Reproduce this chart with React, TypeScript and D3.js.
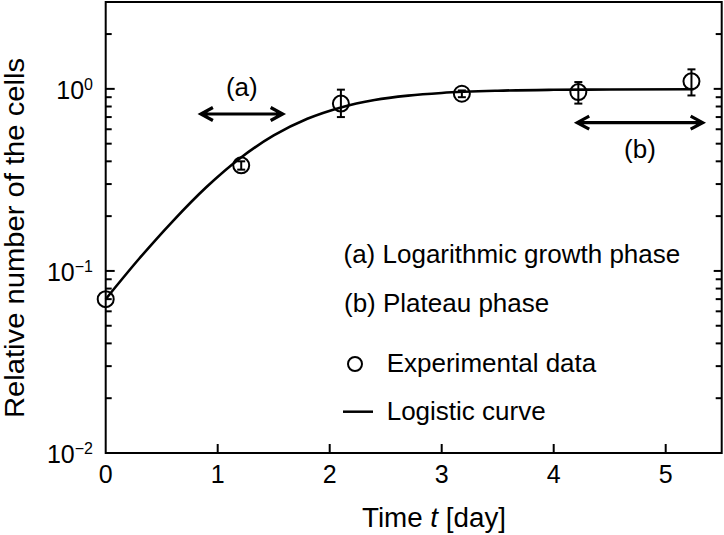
import React from "react";
import * as d3 from "d3";

// ---- data ----
const dataT = [0, 1.21, 2.1, 3.18, 4.22, 5.23];
const dataV = [0.070, 0.38, 0.83, 0.94, 0.96, 1.10];
const errLo = [0.070, 0.36, 0.70, 0.90, 0.83, 0.92];
const errHi = [0.070, 0.40, 0.99, 0.98, 1.09, 1.28];

const curveT = [0, 0.3, 0.6, 0.9, 1.2, 1.5, 1.8, 2.1, 2.4, 2.7, 3.0, 3.5, 4.0, 4.5, 5.25];
const curveV = [0.070, 0.117, 0.188, 0.289, 0.416, 0.555, 0.685, 0.791, 0.868, 0.918, 0.950, 0.977, 0.988, 0.992, 0.995];

const xTicks = [0, 1, 2, 3, 4, 5];
const yMajor = [0.01, 0.1, 1];
const yMajorExp = ["−2", "−1", "0"];
const yMinor = [0.02, 0.03, 0.04, 0.05, 0.06, 0.07, 0.08, 0.09, 0.2, 0.3, 0.4, 0.5, 0.6, 0.7, 0.8, 0.9, 2];

const legendLines = ["(a) Logarithmic growth phase", "(b) Plateau phase", "Experimental data", "Logistic curve"];
const phaseA = [0.85, 1.58];
const phaseB = [4.21, 5.33];

const W = 724, H = 535;
const L = 105.7, R = 721.7, T = 2, B = 453;
const FONT = "'Liberation Sans', Arial, sans-serif";

export default function App() {
  const x = d3.scaleLinear().domain([0, 5.5]).range([L, R]);
  const y = d3.scaleLog().domain([0.01, 3]).range([B, T]);

  const line = d3
    .line<number>()
    .x((_, i) => x(curveT[i]))
    .y((v) => y(v))
    .curve(d3.curveMonotoneX);

  const arrow = (x1: number, x2: number, yy: number) => {
    const h = 12, w = 6.5;
    return `M${x1 + h},${yy - w} L${x1},${yy} L${x1 + h},${yy + w} M${x1},${yy} L${x2},${yy} M${x2 - h},${yy - w} L${x2},${yy} L${x2 - h},${yy + w}`;
  };

  return (
    <svg
      width={W}
      height={H}
      viewBox={`0 0 ${W} ${H}`}
      style={{ position: "absolute", left: 0, top: 0, background: "#fff" }}
      fontFamily={FONT}
    >
      <rect x={0} y={0} width={W} height={H} fill="#fff" />
      {/* frame */}
      <rect x={L} y={T} width={R - L} height={B - T} fill="none" stroke="#000" strokeWidth={2} />

      {/* x ticks */}
      {xTicks.map((t) => (
        <g key={"xt" + t}>
          {t > 0 && <line x1={x(t)} x2={x(t)} y1={B} y2={B - 9} stroke="#000" strokeWidth={2} />}
          <text x={x(t)} y={B + 30} fontSize={25} textAnchor="middle" fill="#000">
            {t}
          </text>
        </g>
      ))}

      {/* y ticks */}
      {yMajor.map((v, i) => (
        <g key={"ym" + v}>
          <line x1={L} x2={L + 9} y1={y(v)} y2={y(v)} stroke="#000" strokeWidth={2} />
          <line x1={R} x2={R - 8} y1={y(v)} y2={y(v)} stroke="#000" strokeWidth={2} />
          <text x={93} y={y(v) + 9.7} textAnchor="end" fill="#000" fontSize={25}>
            10
            <tspan fontSize={16} dy={-9}>
              {yMajorExp[i]}
            </tspan>
          </text>
        </g>
      ))}
      {yMinor.map((v) => (
        <g key={"yn" + v}>
          <line x1={L} x2={L + 6} y1={y(v)} y2={y(v)} stroke="#000" strokeWidth={2} />
          <line x1={R} x2={R - 6} y1={y(v)} y2={y(v)} stroke="#000" strokeWidth={2} />
        </g>
      ))}

      {/* axis titles */}
      <text x={362} y={527} fontSize={27} fill="#000" textLength={144} lengthAdjust="spacingAndGlyphs">
        Time <tspan fontStyle="italic">t</tspan> [day]
      </text>
      <text
        transform={`translate(23.5,238) rotate(-90)`}
        textAnchor="middle"
        fontSize={27}
        fill="#000"
        textLength={360}
        lengthAdjust="spacingAndGlyphs"
      >
        Relative number of the cells
      </text>

      {/* logistic curve */}
      <path d={line(curveV) || ""} fill="none" stroke="#000" strokeWidth={2.6} />

      {/* data with error bars */}
      {dataT.map((t, i) => {
        const cx = x(t);
        const cy = y(dataV[i]);
        const hasErr = errHi[i] > errLo[i];
        return (
          <g key={"d" + i}>
            {hasErr && (
              <>
                <line x1={cx} x2={cx} y1={y(errLo[i])} y2={y(errHi[i])} stroke="#000" strokeWidth={2} />
                <line x1={cx - 4} x2={cx + 4} y1={y(errLo[i])} y2={y(errLo[i])} stroke="#000" strokeWidth={2} />
                <line x1={cx - 4} x2={cx + 4} y1={y(errHi[i])} y2={y(errHi[i])} stroke="#000" strokeWidth={2} />
              </>
            )}
            <circle cx={cx} cy={cy} r={8} fill="none" stroke="#000" strokeWidth={2} />
          </g>
        );
      })}

      {/* phase arrows */}
      <path d={arrow(x(phaseA[0]), x(phaseA[1]), 114)} fill="none" stroke="#000" strokeWidth={3.2} strokeLinejoin="miter" />
      <text x={(x(phaseA[0]) + x(phaseA[1])) / 2} y={96} fontSize={26} textAnchor="middle" fill="#000">
        (a)
      </text>
      <path d={arrow(x(phaseB[0]), x(phaseB[1]), 122.7)} fill="none" stroke="#000" strokeWidth={3.2} strokeLinejoin="miter" />
      <text x={(x(phaseB[0]) + x(phaseB[1])) / 2} y={158} fontSize={26} textAnchor="middle" fill="#000">
        (b)
      </text>

      {/* legend */}
      <text x={343.5} y={263.3} fontSize={26} fill="#000">{legendLines[0]}</text>
      <text x={344} y={311.7} fontSize={26} fill="#000">{legendLines[1]}</text>
      <circle cx={355} cy={364} r={7} fill="none" stroke="#000" strokeWidth={2} />
      <text x={386.7} y={371.7} fontSize={26} fill="#000">{legendLines[2]}</text>
      <line x1={343} x2={373} y1={411.7} y2={411.7} stroke="#000" strokeWidth={2.5} />
      <text x={386.7} y={420} fontSize={26} fill="#000">{legendLines[3]}</text>
    </svg>
  );
}
